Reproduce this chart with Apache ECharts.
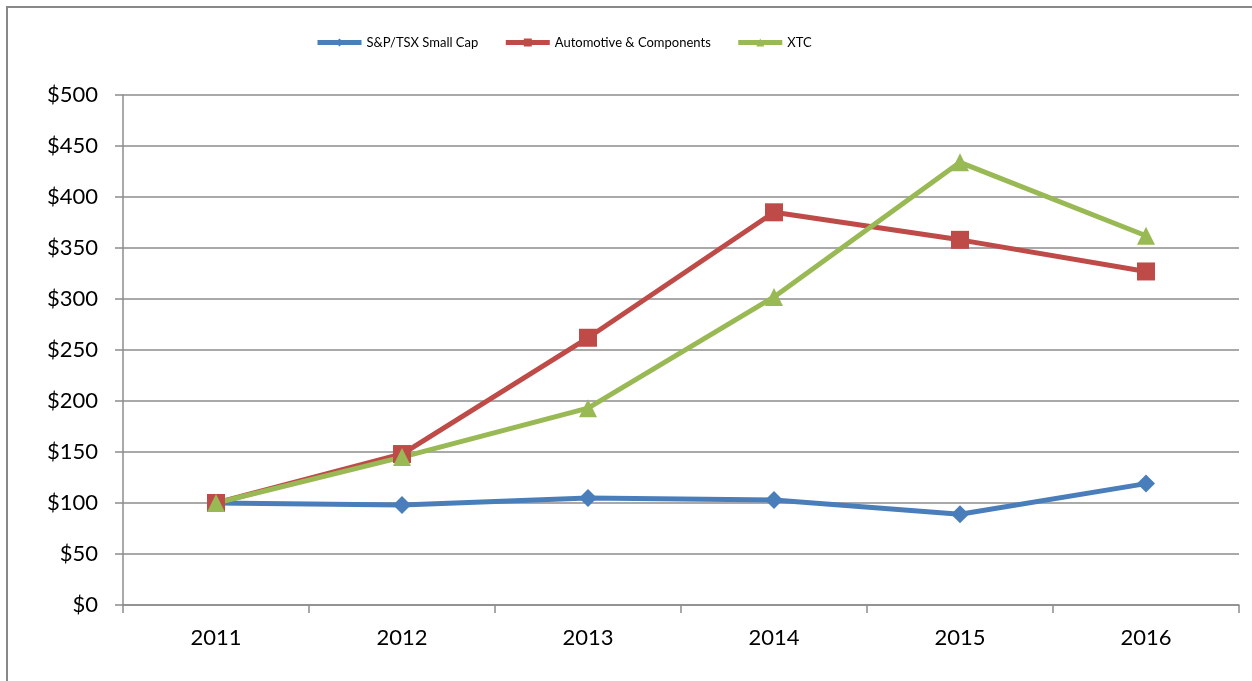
<!DOCTYPE html>
<html><head><meta charset="utf-8">
<script src="https://cdn.jsdelivr.net/npm/echarts@6/dist/echarts.min.js"></script>
<style>html,body{margin:0;padding:0;background:#fff}#c{width:1252px;height:681px}</style>
</head><body><div id="c"></div>
<script>
const categories = ['2011','2012','2013','2014','2015','2016'];
const smallCap = [100, 98, 105, 103, 89, 119];
const automotive = [100, 148, 262, 385, 358, 327];
const xtc = [100, 145, 193, 302, 434, 362];
const seriesNames = ['S&P/TSX Small Cap', 'Automotive & Components', 'XTC'];

const chart = echarts.init(document.getElementById('c'), null, {renderer:'canvas'});
const font = 'Lato, "Open Sans", sans-serif';
const gray = '#8c8c8c';
chart.setOption({
  animation:false,
  graphic:[{type:'polyline', shape:{points:[[7,700],[7,7],[1260,7]]}, style:{stroke:'#888', lineWidth:2, fill:null}, silent:true}],
  legend:{
    top:31, left:310, itemWidth:44, itemHeight:10, itemGap:25,
    lineStyle:{width:5}, textStyle:{fontFamily:font, fontSize:13, color:'#000'},
    data:seriesNames
  },
  grid:{left:123, right:13, top:95, bottom:76},
  xAxis:{
    type:'category', data:categories, boundaryGap:true,
    axisLine:{lineStyle:{color:gray, width:1.5}},
    axisTick:{show:true, length:8, lineStyle:{color:gray, width:1.5}},
    axisLabel:{fontFamily:font, fontSize:22, color:'#000', margin:22}
  },
  yAxis:{
    type:'value', min:0, max:500, interval:50,
    axisLine:{show:true, lineStyle:{color:gray, width:1.5}},
    axisTick:{show:true, length:8, lineStyle:{color:gray, width:1.5}},
    splitLine:{lineStyle:{color:gray, width:1.5}},
    axisLabel:{fontFamily:font, fontSize:22, color:'#000', margin:25, formatter:v=>'$'+v}
  },
  series:[
    {name:seriesNames[0], type:'line', data:smallCap, symbol:'diamond', symbolSize:18,
     lineStyle:{width:5, color:'#4a7ebb'}, itemStyle:{color:'#4a7ebb'}},
    {name:seriesNames[1], type:'line', data:automotive, symbol:'rect', symbolSize:18,
     lineStyle:{width:5, color:'#be4b48'}, itemStyle:{color:'#be4b48'}},
    {name:seriesNames[2], type:'line', data:xtc, symbol:'triangle', symbolSize:18,
     lineStyle:{width:5, color:'#98b954'}, itemStyle:{color:'#98b954'}}
  ]
});
</script></body></html>
